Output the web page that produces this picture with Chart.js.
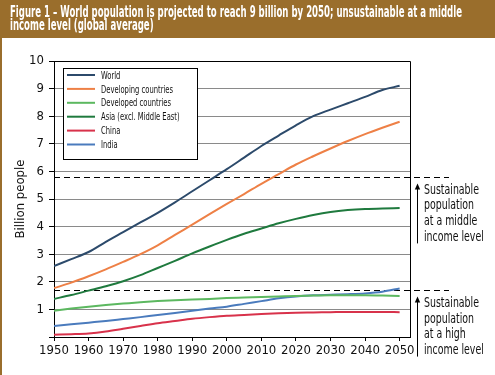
<!DOCTYPE html>
<html lang="en">
<head>
<meta charset="UTF-8">
<title>World population projection</title>
<script src="https://cdn.jsdelivr.net/npm/chart.js"></script>
<style>
  html, body { margin: 0; padding: 0; background: #fff; }
  #wrap { width: 495px; height: 375px; }
</style>
</head>
<body>
<div id="wrap"><canvas id="popChart" width="495" height="375"></canvas></div>
<script>
// data (billion people)
const years = [1950, 1955, 1960, 1965, 1970, 1975, 1980, 1985, 1990, 1995, 2000,
               2005, 2010, 2015, 2020, 2025, 2030, 2035, 2040, 2045, 2050];
const world      = [2.57, 2.82, 3.08, 3.45, 3.80, 4.15, 4.50, 4.88, 5.28, 5.68, 6.08,
                    6.50, 6.92, 7.30, 7.67, 8.00, 8.24, 8.47, 8.70, 8.95, 9.10];
const developing = [1.77, 1.97, 2.20, 2.45, 2.72, 3.00, 3.32, 3.70, 4.07, 4.45, 4.82,
                    5.18, 5.55, 5.90, 6.25, 6.55, 6.83, 7.10, 7.35, 7.58, 7.80];
const developed  = [0.95, 1.03, 1.10, 1.16, 1.21, 1.26, 1.30, 1.33, 1.36, 1.38, 1.41,
                    1.43, 1.45, 1.47, 1.49, 1.50, 1.51, 1.51, 1.51, 1.50, 1.49];
const asia       = [1.38, 1.52, 1.68, 1.84, 2.02, 2.24, 2.50, 2.76, 3.03, 3.28, 3.52,
                    3.74, 3.93, 4.12, 4.28, 4.42, 4.53, 4.60, 4.64, 4.66, 4.67];
const china      = [0.08, 0.10, 0.13, 0.20, 0.30, 0.40, 0.50, 0.58, 0.66, 0.72, 0.77,
                    0.80, 0.83, 0.86, 0.88, 0.89, 0.90, 0.91, 0.91, 0.91, 0.90];
const india      = [0.40, 0.46, 0.52, 0.58, 0.65, 0.72, 0.80, 0.87, 0.95, 1.03, 1.10,
                    1.20, 1.30, 1.40, 1.47, 1.51, 1.53, 1.55, 1.58, 1.64, 1.76];

const seriesNames = ["World", "Developing countries", "Developed countries",
                     "Asia (excl. Middle East)", "China", "India"];
const seriesValues = [world, developing, developed, asia, china, india];
const seriesColors = ["#2c4a6b", "#ee8046", "#5cb860", "#1f7a3e", "#d8324b", "#4a7bbd"];

const xTicks = [1950, 1960, 1970, 1980, 1990, 2000, 2010, 2020, 2030, 2040, 2050];
const yTicks = [0, 1, 2, 3, 4, 5, 6, 7, 8, 9, 10];

// sustainable population thresholds and their notes
const thresholds = [5.8, 1.7];
const thresholdNotes = [
  ["Sustainable", "population", "at a middle", "income level"],
  ["Sustainable", "population", "at a high", "income level"]
];

const titleLines = [
  "Figure 1 \u2013 World population is projected to reach 9 billion by 2050; unsustainable at a middle",
  "income level (global average)"
];

const NARROW = "'Liberation Sans Narrow', 'Arial Narrow', 'DejaVu Sans Condensed', sans-serif";
const BROWN = "#9a6e2c";

function squeeze(ctx, text, x, y, sx) {
  ctx.save();
  ctx.translate(x, y);
  ctx.scale(sx, 1);
  ctx.fillText(text, 0, 0);
  ctx.restore();
}

const decorPlugin = {
  id: "decor",
  beforeDraw(chart) {
    const ctx = chart.ctx;
    ctx.save();
    ctx.fillStyle = "#fff";
    ctx.fillRect(0, 0, chart.width, chart.height);
    // header band
    ctx.fillStyle = BROWN;
    ctx.fillRect(0, 0, chart.width, 38);
    ctx.fillRect(0, 0, 2, chart.height);
    ctx.fillStyle = "#fff";
    ctx.font = "bold 15px " + NARROW;
    ctx.textBaseline = "alphabetic";
    const sx = Math.min(1, 452 / ctx.measureText(titleLines[0]).width);
    squeeze(ctx, titleLines[0], 10, 17, sx);
    squeeze(ctx, titleLines[1], 10, 30, sx);
    ctx.restore();
  },
  beforeDatasetsDraw(chart) {
    const ctx = chart.ctx;
    const y = chart.scales.y;
    ctx.save();
    ctx.strokeStyle = "#000";
    ctx.lineWidth = 1.2;
    ctx.setLineDash([6, 4]);
    thresholds.forEach(t => {
      const py = Math.round(y.getPixelForValue(t)) + 0.5;
      ctx.beginPath();
      ctx.moveTo(chart.chartArea.left, py);
      ctx.lineTo(449, py);
      ctx.stroke();
    });
    ctx.restore();
  },
  afterDraw(chart) {
    const ctx = chart.ctx;
    const area = chart.chartArea;
    const y = chart.scales.y;
    ctx.save();
    // frame top and right
    ctx.strokeStyle = "#000";
    ctx.lineWidth = 1;
    ctx.beginPath();
    ctx.moveTo(area.left, area.top + 0.5);
    ctx.lineTo(area.right + 0.5, area.top + 0.5);
    ctx.lineTo(area.right + 0.5, area.bottom);
    ctx.stroke();

    // legend box
    const lx = 63, ly = 68, lw = 134, lh = 91;
    ctx.fillStyle = "#fff";
    ctx.fillRect(lx, ly, lw, lh);
    ctx.strokeRect(lx + 0.5, ly + 0.5, lw, lh);
    ctx.font = "10.5px " + NARROW;
    const lsx = Math.min(1, 72 / ctx.measureText(seriesNames[1]).width);
    chart.data.datasets.forEach((ds, i) => {
      const cy = 75 + i * 13.9;
      ctx.strokeStyle = ds.borderColor;
      ctx.lineWidth = 2;
      ctx.beginPath();
      ctx.moveTo(67, cy);
      ctx.lineTo(95, cy);
      ctx.stroke();
      ctx.fillStyle = "#111";
      squeeze(ctx, ds.label, 101, cy + 3.6, lsx);
    });

    // threshold notes with arrows
    ctx.font = "14px " + NARROW;
    const asx = Math.min(1, 55 / ctx.measureText("Sustainable").width);
    thresholds.forEach((t, k) => {
      const py = y.getPixelForValue(t);
      const tip = py + 6.5;
      ctx.fillStyle = "#000";
      ctx.beginPath();
      ctx.moveTo(417.5, tip);
      ctx.lineTo(414.8, tip + 6);
      ctx.lineTo(420.2, tip + 6);
      ctx.closePath();
      ctx.fill();
      ctx.strokeStyle = "#000";
      ctx.lineWidth = 1;
      ctx.beginPath();
      ctx.moveTo(417.5, tip + 5);
      ctx.lineTo(417.5, tip + 60);
      ctx.stroke();
      ctx.fillStyle = "#111";
      thresholdNotes[k].forEach((line, j) => {
        squeeze(ctx, line, 424, py + 16.8 + j * 15.7, asx);
      });
    });
    ctx.restore();
  }
};

const datasets = seriesNames.map((name, i) => ({
  label: name,
  data: years.map((yr, j) => ({ x: yr, y: seriesValues[i][j] })),
  borderColor: seriesColors[i],
  backgroundColor: seriesColors[i],
  borderWidth: 2,
  pointRadius: 0,
  fill: false,
  cubicInterpolationMode: "monotone"
}));

new Chart(document.getElementById("popChart"), {
  type: "line",
  data: { datasets: datasets },
  options: {
    responsive: false,
    animation: false,
    layout: { padding: { left: 0, top: 61, right: 85, bottom: 0 } },
    plugins: {
      legend: { display: false },
      tooltip: { enabled: false }
    },
    scales: {
      x: {
        type: "linear",
        min: 1950,
        max: 2053,
        afterBuildTicks: s => { s.ticks = xTicks.map(v => ({ value: v })); },
        afterFit: s => { s.height = 38; },
        grid: { drawOnChartArea: false, drawTicks: true, tickLength: 4, tickColor: "#000" },
        border: { color: "#000", width: 1 },
        ticks: {
          font: { family: NARROW, size: 13 },
          color: "#111",
          padding: 2,
          maxRotation: 0,
          autoSkip: false,
          callback: v => String(v)
        }
      },
      y: {
        min: 0,
        max: 10,
        afterBuildTicks: s => { s.ticks = yTicks.map(v => ({ value: v })); },
        afterFit: s => { s.width = 54; },
        grid: { color: "#8a8a8a", lineWidth: 1, tickColor: "#000", tickLength: 5 },
        border: { color: "#000", width: 1 },
        ticks: {
          font: { family: NARROW, size: 13 },
          color: "#111",
          padding: 5,
          callback: v => (v === 0 ? "" : String(v))
        },
        title: {
          display: true,
          text: "Billion people",
          font: { family: NARROW, size: 13 },
          color: "#111",
          padding: { top: 13, bottom: 0 }
        }
      }
    }
  },
  plugins: [decorPlugin]
});
</script>
</body>
</html>
